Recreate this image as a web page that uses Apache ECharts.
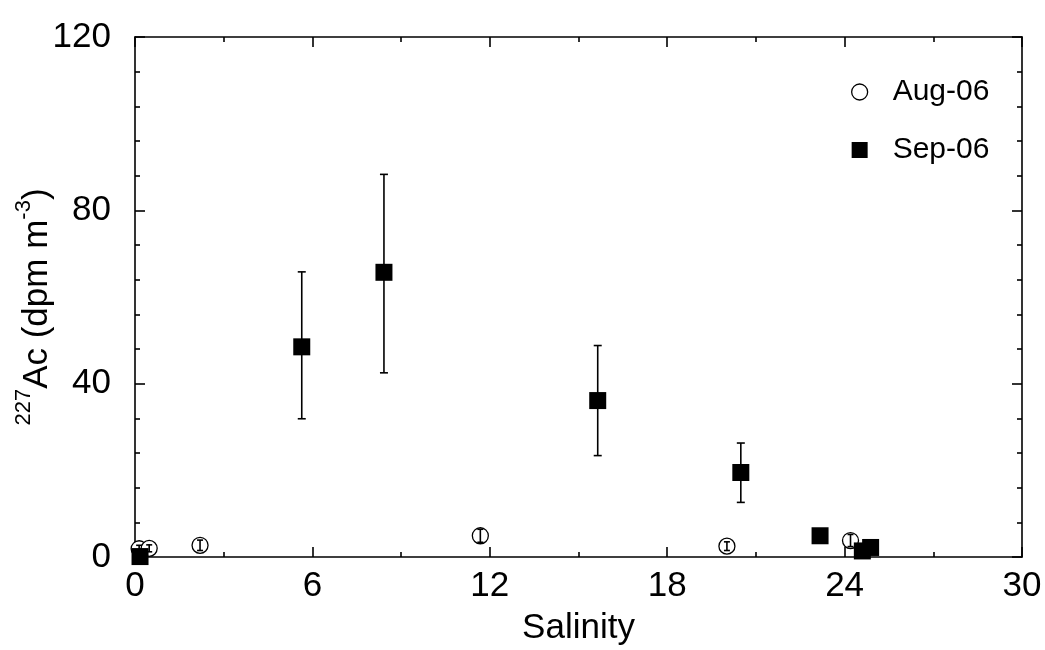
<!DOCTYPE html>
<html>
<head>
<meta charset="utf-8">
<script src="https://cdn.jsdelivr.net/npm/echarts@6/dist/echarts.min.js"></script>
<style>
html,body{margin:0;padding:0;background:#fff;}
#chart{width:1045px;height:650px;}
</style>
</head>
<body>
<div id="chart"></div>
<script>
// Aug-06 (open circles)
var augSalinity = [0.14, 0.48, 2.2, 11.68, 20.02, 24.2];
var augAc = [1.9, 2.0, 2.7, 4.9, 2.5, 3.8];
var augErr = [0.8, 0.8, 1.2, 1.5, 1.0, 1.4];
// Sep-06 (filled squares)
var sepSalinity = [0.17, 5.64, 8.42, 15.65, 20.49, 23.17, 24.6, 24.88];
var sepAc = [0.1, 48.5, 65.7, 36.1, 19.5, 4.9, 1.4, 2.2];
var sepErrUp = [0, 17.3, 22.6, 12.7, 6.8, 0, 0, 0];
var sepErrDown = [0, 16.6, 23.2, 12.7, 6.9, 0, 0, 0];

var xTicks = [0, 6, 12, 18, 24, 30];
var yTicks = [0, 40, 80, 120];

var FONT = 'Liberation Sans, Arial, sans-serif';

function pts(xs, ys) { return xs.map(function (x, i) { return [x, ys[i]]; }); }
function errData(xs, ys, up, down) {
  return xs.map(function (x, i) { return [x, ys[i] - down[i], ys[i] + up[i]]; });
}
function errRender(cap) {
  return function (params, api) {
    if (api.value(2) - api.value(1) <= 0) return null;
    var lo = api.coord([api.value(0), api.value(1)]);
    var hi = api.coord([api.value(0), api.value(2)]);
    var st = { stroke: '#000', lineWidth: 1.6 };
    return {
      type: 'group',
      children: [
        { type: 'line', shape: { x1: lo[0], y1: lo[1], x2: hi[0], y2: hi[1] }, style: st },
        { type: 'line', shape: { x1: lo[0] - cap, y1: lo[1], x2: lo[0] + cap, y2: lo[1] }, style: st },
        { type: 'line', shape: { x1: hi[0] - cap, y1: hi[1], x2: hi[0] + cap, y2: hi[1] }, style: st }
      ]
    };
  };
}

var axisLine = { onZero: false, lineStyle: { color: '#000', width: 1.6 } };
var tick = { inside: true, length: 10, lineStyle: { color: '#000', width: 1.6 } };
var chart = echarts.init(document.getElementById('chart'));
chart.setOption({
  animation: false,
  backgroundColor: '#fff',
  textStyle: { fontFamily: FONT },
  grid: { left: 135, right: 23, top: 37, bottom: 93, containLabel: false, outerBoundsMode: 'none' },
  legend: {
    orient: 'vertical',
    left: 846,
    top: 72,
    itemGap: 28,
    itemWidth: 16,
    itemHeight: 16,
    textStyle: { fontSize: 30, color: '#000', fontFamily: FONT, padding: [0, 0, 0, 20] },
    data: [
      { name: 'Aug-06', icon: 'circle', itemStyle: { color: '#fff', borderColor: '#000', borderWidth: 1.3 } },
      { name: 'Sep-06', icon: 'rect', itemStyle: { color: '#000' } }
    ]
  },
  xAxis: [{
    type: 'value', min: xTicks[0], max: xTicks[xTicks.length - 1], interval: 6,
    name: 'Salinity', nameLocation: 'middle', nameGap: 54,
    nameTextStyle: { fontSize: 35, color: '#000', fontFamily: FONT },
    axisLine: axisLine,
    axisTick: tick,
    minorTick: { show: true, splitNumber: 2, length: 5, lineStyle: { color: '#000', width: 1.6 } },
    axisLabel: { fontSize: 35, color: '#000', margin: 12, fontFamily: FONT },
    splitLine: { show: false }
  }, {
    type: 'value', position: 'top', min: 0, max: 30, interval: 6,
    axisLine: axisLine,
    axisTick: tick,
    minorTick: { show: true, splitNumber: 2, length: 5, lineStyle: { color: '#000', width: 1.6 } },
    axisLabel: { show: false }, splitLine: { show: false }
  }],
  yAxis: [{
    type: 'value', min: yTicks[0], max: yTicks[yTicks.length - 1], interval: 40,
    name: '{sup|227}{main|Ac (dpm m}{sup|-3}{main|)}',
    nameLocation: 'middle', nameRotate: 90, nameGap: 80, nameMoveOverlap: false,
    nameTextStyle: {
      color: '#000', fontFamily: FONT, padding: [0, 20, 0, 0],
      rich: {
        main: { fontSize: 35, lineHeight: 42, color: '#000', fontFamily: FONT, verticalAlign: 'bottom' },
        sup: { fontSize: 22, lineHeight: 42, color: '#000', fontFamily: FONT, verticalAlign: 'top' }
      }
    },
    axisLine: axisLine,
    axisTick: tick,
    minorTick: { show: true, splitNumber: 5, length: 5, lineStyle: { color: '#000', width: 1.6 } },
    axisLabel: { fontSize: 35, color: '#000', margin: 24, fontFamily: FONT },
    splitLine: { show: false }
  }, {
    type: 'value', position: 'right', min: 0, max: 120, interval: 40,
    axisLine: axisLine,
    axisTick: tick,
    minorTick: { show: true, splitNumber: 5, length: 5, lineStyle: { color: '#000', width: 1.6 } },
    axisLabel: { show: false }, splitLine: { show: false }
  }],
  series: [
    {
      name: 'Sep-06 err', type: 'custom', z: 2, renderItem: errRender(4),
      data: errData(sepSalinity, sepAc, sepErrUp, sepErrDown),
      encode: { x: 0, y: [1, 2] }, silent: true
    },
    {
      name: 'Aug-06', type: 'scatter', z: 3, symbol: 'circle', symbolSize: 16,
      itemStyle: { color: '#fff', borderColor: '#000', borderWidth: 1.3, opacity: 1 },
      data: pts(augSalinity, augAc)
    },
    {
      name: 'Aug-06 err', type: 'custom', z: 4, renderItem: errRender(3),
      data: errData(augSalinity, augAc, augErr, augErr),
      encode: { x: 0, y: [1, 2] }, silent: true
    },
    {
      name: 'Sep-06', type: 'scatter', z: 5, symbol: 'rect', symbolSize: 17,
      itemStyle: { color: '#000', opacity: 1 },
      data: pts(sepSalinity, sepAc)
    }
  ]
});
</script>
</body>
</html>
